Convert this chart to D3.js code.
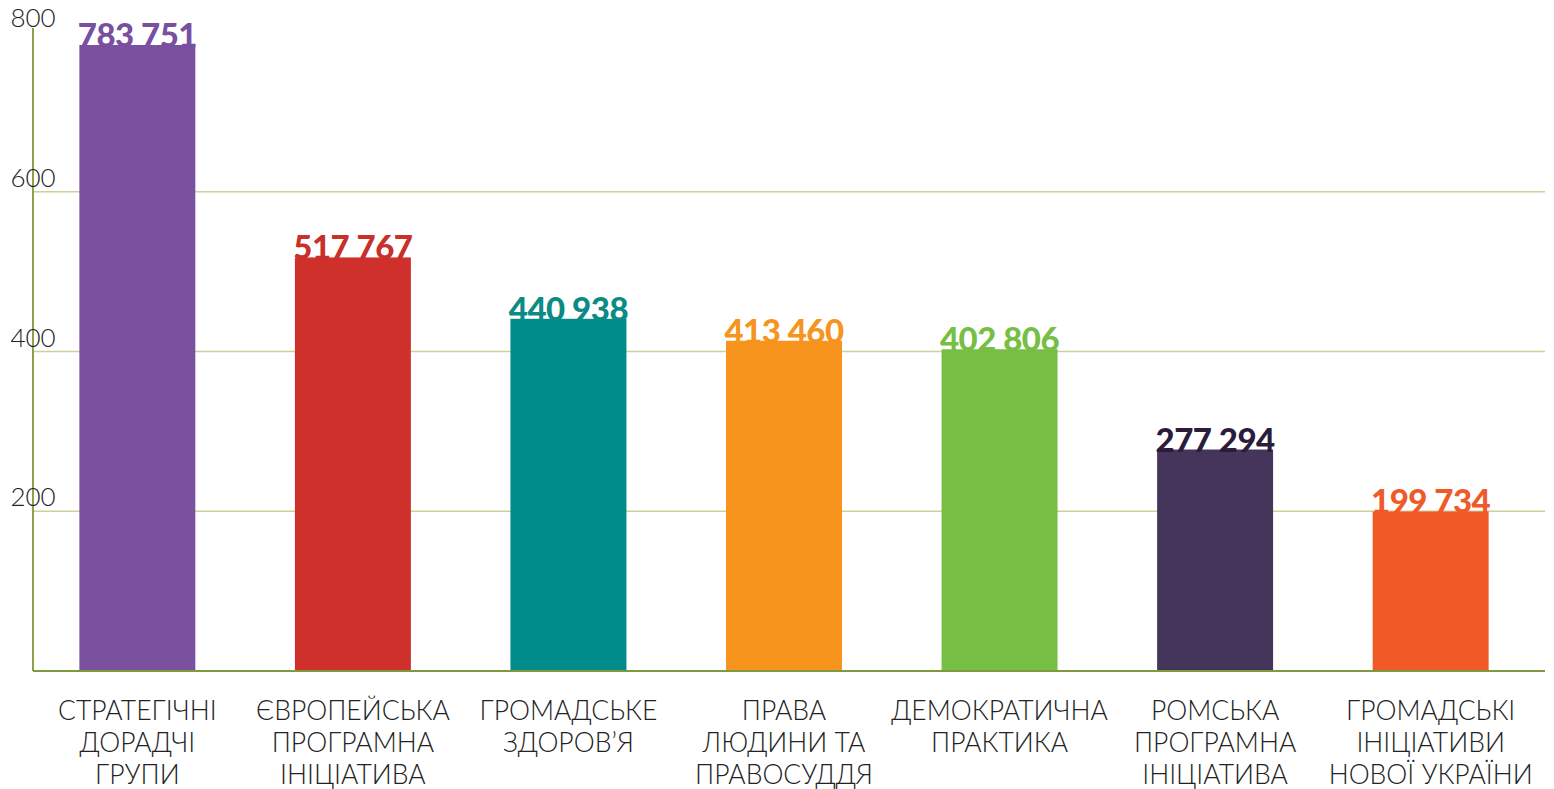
<!DOCTYPE html>
<html>
<head>
<meta charset="utf-8">
<script src="https://cdn.jsdelivr.net/npm/d3@7"></script>
<style>
	body { margin: 0; background: #ffffff; }
	svg { display: block; }
</style>
</head>
<body>
<div id="chart"></div>
<script>
// categories, one entry per bar, each split into its printed lines
var categories = [
	["СТРАТЕГІЧНІ", "ДОРАДЧІ", "ГРУПИ"],
	["ЄВРОПЕЙСЬКА", "ПРОГРАМНА", "ІНІЦІАТИВА"],
	["ГРОМАДСЬКЕ", "ЗДОРОВ’Я"],
	["ПРАВА", "ЛЮДИНИ ТА", "ПРАВОСУДДЯ"],
	["ДЕМОКРАТИЧНА", "ПРАКТИКА"],
	["РОМСЬКА", "ПРОГРАМНА", "ІНІЦІАТИВА"],
	["ГРОМАДСЬКІ", "ІНІЦІАТИВИ", "НОВОЇ УКРАЇНИ"]
];
var values = [783751, 517767, 440938, 413460, 402806, 277294, 199734];
var valueLabels = ["783 751", "517 767", "440 938", "413 460", "402 806", "277 294", "199 734"];
var barColors = ["#7b519f", "#d0302b", "#008c8a", "#f7941e", "#76bf44", "#46355a", "#f05a27"];
var labelColors = ["#7b4f9f", "#c8302a", "#0b8a86", "#f7941e", "#76bf44", "#2b1c3c", "#ef5a28"];
var yTicks = [200, 400, 600, 800];
var gridTicks = [200, 400, 600];

var width = 1554, height = 789;
var x0 = 33, x1 = 1545, yBase = 671, yTop = 32;

var svg = d3.select("#chart").append("svg")
	.attr("width", width)
	.attr("height", height);

var x = d3.scaleBand()
	.domain(d3.range(categories.length))
	.range([30, 1538])
	.paddingInner(0.462)
	.paddingOuter(0.229);

var y = d3.scaleLinear()
	.domain([0, 800])
	.range([yBase, yTop]);

// gridlines
svg.selectAll(".grid")
	.data(gridTicks)
	.enter()
	.append("line")
		.attr("class", "grid")
		.attr("x1", x0)
		.attr("x2", x1)
		.attr("y1", d => y(d))
		.attr("y2", d => y(d))
		.attr("stroke", "#cfcf9c")
		.attr("stroke-width", 1.5);

// bars
svg.selectAll(".bar")
	.data(values)
	.enter()
	.append("rect")
		.attr("class", "bar")
		.attr("x", (d, i) => x(i))
		.attr("y", d => y(d / 1000))
		.attr("width", x.bandwidth())
		.attr("height", d => yBase - y(d / 1000))
		.attr("fill", (d, i) => barColors[i]);

// axis lines
svg.append("line")
	.attr("x1", x0).attr("x2", x0)
	.attr("y1", yTop - 4).attr("y2", yBase)
	.attr("stroke", "#8fa04a")
	.attr("stroke-width", 2);
svg.append("line")
	.attr("x1", x0).attr("x2", x1)
	.attr("y1", yBase).attr("y2", yBase)
	.attr("stroke", "#7f9a3e")
	.attr("stroke-width", 2);

// y tick labels
svg.selectAll(".ytick")
	.data(yTicks)
	.enter()
	.append("text")
		.attr("class", "ytick")
		.attr("x", x0)
		.attr("y", d => y(d) - 5)
		.attr("text-anchor", "middle")
		.attr("font-family", "Lato, 'Open Sans', sans-serif")
		.attr("font-weight", 300)
		.attr("font-size", "26px")
		.attr("fill", "#222222")
		.text(d => d);

// value labels
svg.selectAll(".vlabel")
	.data(values)
	.enter()
	.append("text")
		.attr("class", "vlabel")
		.attr("x", (d, i) => x(i) + x.bandwidth() / 2)
		.attr("y", d => y(d / 1000) + 2)
		.attr("text-anchor", "middle")
		.attr("font-family", "Lato, 'Open Sans', sans-serif")
		.attr("font-weight", 900)
		.attr("font-size", "33px")
		.attr("letter-spacing", "-0.5px")
		.attr("fill", (d, i) => labelColors[i])
		.text((d, i) => valueLabels[i]);

// category labels
var catG = svg.selectAll(".cat")
	.data(categories)
	.enter()
	.append("text")
		.attr("class", "cat")
		.attr("x", (d, i) => x(i) + x.bandwidth() / 2)
		.attr("y", 720)
		.attr("text-anchor", "middle")
		.attr("font-family", "Lato, 'Open Sans', sans-serif")
		.attr("font-weight", 300)
		.attr("font-size", "26.5px")
		.attr("fill", "#222222");

catG.each(function(lines, i) {
	var t = d3.select(this);
	var cx = x(i) + x.bandwidth() / 2;
	lines.forEach(function(line, j) {
		t.append("tspan")
			.attr("x", cx)
			.attr("dy", j == 0 ? 0 : 32)
			.text(line);
	});
});
</script>
</body>
</html>
